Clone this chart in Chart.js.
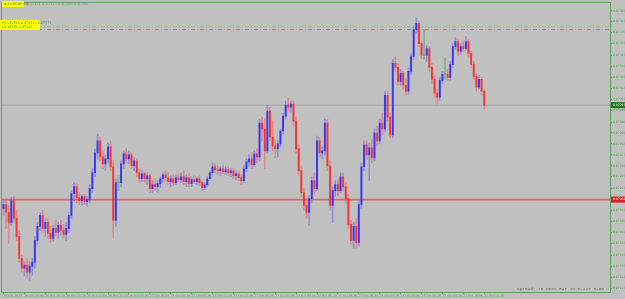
<!DOCTYPE html>
<html>
<head>
<meta charset="utf-8">
<title>EURGBP,M5</title>
<script src="https://cdn.jsdelivr.net/npm/chart.js@4.4.0/dist/chart.umd.min.js"></script>
<style>
  body { margin: 0; background: #c0c0c0; }
  #wrap { position: relative; width: 625px; height: 299px; overflow: hidden; background: #c0c0c0; }
  canvas { position: absolute; left: 0; top: 0; }
  .box { position: absolute; background: #ffff00; color: #5a8f5a; font-family: 'DejaVu Sans', sans-serif; white-space: nowrap; }
  .txt { position: absolute; color: #6f9a6f; font-family: 'DejaVu Sans', sans-serif; white-space: nowrap; }
</style>
</head>
<body>
<div id="wrap">
  <canvas id="chart" width="625" height="299"></canvas>
  <div class="box" style="left:2px;top:1px;width:22px;height:6px;font-size:3.6px;line-height:6px;padding-left:2px;box-sizing:border-box;">&#9642; EURGBP,M5</div>
  <div class="txt" id="ohlc" style="left:26px;top:1px;font-size:3.6px;line-height:6px;"></div>
  <div class="box" style="left:0;top:20px;width:40px;height:10px;font-size:3.3px;line-height:4px;padding:1px 0 0 2px;box-sizing:border-box;">
    <div>H1 LEVELS 0.87376 / 0.87373</div>
    <div>D1 LEVEL 0.87202</div>
  </div>
  <div class="txt" style="left:517px;top:286px;font-family:'Liberation Mono',monospace;font-size:4.4px;line-height:5px;color:#6a6a6a;">Spread: 16  Next Bar in 0-227 0-00</div>
</div>
<script>
// EURGBP M5 candles, 26 Oct 19:20 .. 27 Oct 10:40

const OPEN = [
  0.87193,0.87197,0.87189,0.87179,0.87201,0.87183,0.87165,0.87143,0.87133,0.87136,
  0.87129,0.87135,0.87139,0.87161,0.87175,0.87186,0.87173,0.87179,0.87168,0.87163,
  0.87173,0.87169,0.87176,0.87171,0.87167,0.87173,0.87186,0.87208,0.87215,0.87204,
  0.87201,0.87205,0.87200,0.87202,0.87213,0.87229,0.87249,0.87261,0.87245,0.87238,
  0.87243,0.87255,0.87235,0.87181,0.87219,0.87219,0.87238,0.87248,0.87243,0.87247,
  0.87236,0.87241,0.87229,0.87223,0.87228,0.87223,0.87226,0.87213,0.87217,0.87215,
  0.87218,0.87223,0.87227,0.87224,0.87220,0.87223,0.87219,0.87224,0.87222,0.87225,
  0.87220,0.87224,0.87218,0.87222,0.87220,0.87223,0.87219,0.87214,0.87217,0.87223,
  0.87229,0.87235,0.87232,0.87231,0.87233,0.87230,0.87232,0.87229,0.87231,0.87226,
  0.87228,0.87224,0.87221,0.87233,0.87240,0.87243,0.87237,0.87248,0.87245,0.87279,
  0.87273,0.87251,0.87291,0.87265,0.87256,0.87253,0.87258,0.87271,0.87286,0.87297,
  0.87295,0.87298,0.87281,0.87253,0.87231,0.87209,0.87196,0.87189,0.87203,0.87221,
  0.87213,0.87261,0.87249,0.87251,0.87279,0.87236,0.87196,0.87211,0.87217,0.87211,
  0.87225,0.87215,0.87203,0.87177,0.87161,0.87175,0.87159,0.87197,0.87235,0.87257,
  0.87247,0.87254,0.87244,0.87269,0.87261,0.87279,0.87273,0.87307,0.87285,0.87267,
  0.87339,0.87335,0.87321,0.87329,0.87317,0.87311,0.87331,0.87346,0.87373,0.87379,
  0.87359,0.87347,0.87347,0.87354,0.87335,0.87323,0.87309,0.87305,0.87322,0.87328,
  0.87328,0.87325,0.87338,0.87356,0.87361,0.87351,0.87356,0.87354,0.87361,0.87349,
  0.87338,0.87326,0.87315,0.87323,0.87311
];
const HIGH = [
  0.87201,0.87203,0.87196,0.87204,0.87205,0.87191,0.87171,0.87146,0.87139,0.87143,
  0.87139,0.87143,0.87165,0.87179,0.87189,0.87191,0.87183,0.87183,0.87175,0.87176,
  0.87181,0.87179,0.87181,0.87177,0.87179,0.87189,0.87211,0.87219,0.87218,0.87209,
  0.87207,0.87207,0.87205,0.87217,0.87233,0.87253,0.87268,0.87265,0.87251,0.87247,
  0.87259,0.87261,0.87241,0.87223,0.87226,0.87241,0.87251,0.87253,0.87251,0.87249,
  0.87244,0.87243,0.87233,0.87231,0.87230,0.87229,0.87228,0.87221,0.87223,0.87221,
  0.87225,0.87229,0.87231,0.87229,0.87226,0.87227,0.87227,0.87228,0.87229,0.87231,
  0.87227,0.87228,0.87225,0.87226,0.87225,0.87226,0.87221,0.87219,0.87225,0.87231,
  0.87239,0.87238,0.87236,0.87235,0.87236,0.87235,0.87235,0.87234,0.87233,0.87231,
  0.87231,0.87227,0.87236,0.87243,0.87247,0.87249,0.87251,0.87253,0.87283,0.87285,
  0.87283,0.87297,0.87295,0.87281,0.87263,0.87261,0.87273,0.87289,0.87301,0.87304,
  0.87301,0.87301,0.87285,0.87257,0.87236,0.87213,0.87203,0.87206,0.87225,0.87229,
  0.87266,0.87265,0.87255,0.87283,0.87283,0.87241,0.87215,0.87221,0.87223,0.87229,
  0.87229,0.87219,0.87207,0.87181,0.87179,0.87183,0.87201,0.87239,0.87261,0.87261,
  0.87259,0.87263,0.87273,0.87276,0.87283,0.87289,0.87311,0.87311,0.87289,0.87343,
  0.87346,0.87339,0.87333,0.87331,0.87323,0.87335,0.87349,0.87376,0.87385,0.87381,
  0.87361,0.87373,0.87357,0.87356,0.87339,0.87327,0.87313,0.87325,0.87331,0.87344,
  0.87333,0.87341,0.87359,0.87365,0.87363,0.87359,0.87361,0.87366,0.87363,0.87351,
  0.87341,0.87329,0.87327,0.87325,0.87313
];
const LOW = [
  0.87186,0.87173,0.87158,0.87176,0.87179,0.87161,0.87139,0.87129,0.87125,0.87123,
  0.87121,0.87126,0.87133,0.87157,0.87171,0.87169,0.87165,0.87163,0.87159,0.87160,
  0.87165,0.87163,0.87166,0.87163,0.87161,0.87169,0.87183,0.87201,0.87199,0.87197,
  0.87196,0.87197,0.87195,0.87199,0.87209,0.87225,0.87243,0.87241,0.87233,0.87231,
  0.87239,0.87231,0.87164,0.87175,0.87211,0.87215,0.87233,0.87239,0.87238,0.87233,
  0.87231,0.87225,0.87219,0.87220,0.87219,0.87217,0.87209,0.87209,0.87211,0.87209,
  0.87214,0.87219,0.87221,0.87217,0.87215,0.87216,0.87217,0.87220,0.87219,0.87217,
  0.87215,0.87215,0.87215,0.87218,0.87217,0.87216,0.87211,0.87212,0.87215,0.87221,
  0.87227,0.87229,0.87227,0.87226,0.87228,0.87227,0.87226,0.87225,0.87223,0.87222,
  0.87221,0.87217,0.87219,0.87230,0.87235,0.87233,0.87235,0.87239,0.87241,0.87261,
  0.87233,0.87249,0.87261,0.87251,0.87244,0.87245,0.87255,0.87268,0.87283,0.87291,
  0.87290,0.87276,0.87249,0.87226,0.87205,0.87191,0.87183,0.87176,0.87199,0.87208,
  0.87211,0.87245,0.87243,0.87247,0.87231,0.87191,0.87179,0.87205,0.87206,0.87209,
  0.87211,0.87198,0.87173,0.87157,0.87153,0.87153,0.87155,0.87193,0.87231,0.87243,
  0.87221,0.87239,0.87241,0.87256,0.87258,0.87267,0.87270,0.87281,0.87264,0.87264,
  0.87331,0.87317,0.87317,0.87313,0.87307,0.87308,0.87328,0.87343,0.87369,0.87356,
  0.87344,0.87343,0.87341,0.87331,0.87319,0.87305,0.87298,0.87302,0.87319,0.87323,
  0.87321,0.87322,0.87335,0.87353,0.87347,0.87348,0.87351,0.87352,0.87345,0.87335,
  0.87323,0.87311,0.87313,0.87307,0.87293
];
const CLOSE = [
  0.87197,0.87189,0.87179,0.87201,0.87183,0.87165,0.87143,0.87133,0.87136,0.87129,
  0.87135,0.87139,0.87161,0.87175,0.87186,0.87173,0.87179,0.87168,0.87163,0.87173,
  0.87169,0.87176,0.87171,0.87167,0.87173,0.87186,0.87208,0.87215,0.87204,0.87201,
  0.87205,0.87200,0.87202,0.87213,0.87229,0.87249,0.87261,0.87245,0.87238,0.87243,
  0.87255,0.87235,0.87181,0.87219,0.87219,0.87238,0.87248,0.87243,0.87247,0.87236,
  0.87241,0.87229,0.87223,0.87228,0.87223,0.87226,0.87213,0.87217,0.87215,0.87218,
  0.87223,0.87227,0.87224,0.87220,0.87223,0.87219,0.87224,0.87222,0.87225,0.87220,
  0.87224,0.87218,0.87222,0.87220,0.87223,0.87219,0.87214,0.87217,0.87223,0.87229,
  0.87235,0.87232,0.87231,0.87233,0.87230,0.87232,0.87229,0.87231,0.87226,0.87228,
  0.87224,0.87221,0.87233,0.87240,0.87243,0.87237,0.87248,0.87245,0.87279,0.87273,
  0.87251,0.87291,0.87265,0.87256,0.87253,0.87258,0.87271,0.87286,0.87297,0.87295,
  0.87298,0.87281,0.87253,0.87231,0.87209,0.87196,0.87189,0.87203,0.87221,0.87213,
  0.87261,0.87249,0.87251,0.87279,0.87236,0.87196,0.87211,0.87217,0.87211,0.87225,
  0.87215,0.87203,0.87177,0.87161,0.87175,0.87159,0.87197,0.87235,0.87257,0.87247,
  0.87254,0.87244,0.87269,0.87261,0.87279,0.87273,0.87307,0.87285,0.87267,0.87339,
  0.87335,0.87321,0.87329,0.87317,0.87311,0.87331,0.87346,0.87373,0.87379,0.87359,
  0.87347,0.87347,0.87354,0.87335,0.87323,0.87309,0.87305,0.87322,0.87328,0.87328,
  0.87325,0.87338,0.87356,0.87361,0.87351,0.87356,0.87354,0.87361,0.87349,0.87338,
  0.87326,0.87315,0.87323,0.87311,0.87297
];

// x-axis labels sit on every 8th bar
const TICK_INDEX = [0,8,16,24,32,40,48,56,64,72,80,88,96,104,112,120,128,136,144,152,160,168,176,184];
const TIME_LABELS = [
  '26 Oct 2023','26 Oct 20:00','26 Oct 20:40','26 Oct 21:20','26 Oct 22:00','26 Oct 22:40',
  '26 Oct 23:20','27 Oct 00:00','27 Oct 00:40','27 Oct 01:20','27 Oct 02:00','27 Oct 02:40',
  '27 Oct 03:20','27 Oct 04:00','27 Oct 04:40','27 Oct 05:20','27 Oct 06:00','27 Oct 06:40',
  '27 Oct 07:20','27 Oct 08:00','27 Oct 08:40','27 Oct 09:20','27 Oct 10:00','27 Oct 10:40'
];
const PRICE_TICKS = [
  0.87392,0.87381,0.87370,0.87359,0.87347,0.87336,0.87325,0.87314,0.87303,0.87292,
  0.87280,0.87269,0.87258,0.87247,0.87236,0.87225,0.87213,0.87202,0.87191,0.87180,
  0.87169,0.87158,0.87146,0.87135,0.87124,0.87113
];

const BID = 0.87297;          // current price line
const LEVEL = 0.87202;        // red horizontal line
const UPPER_GREEN = 0.87376;  // dash-dot lines near the top
const UPPER_RED = 0.87373;

const X_MIN = -0.574, X_MAX = 232.15;
const GREEN = '#5aa35a';
const n = CLOSE.length;

document.getElementById('ohlc').textContent =
  [OPEN[n-1], HIGH[n-1], LOW[n-1], CLOSE[n-1]].map(v => v.toFixed(5)).join(' ');

const dir = i => CLOSE[i] > OPEN[i] ? 1 : CLOSE[i] < OPEN[i] ? -1 : 0;
const bodyCol = i => dir(i) > 0 ? 'rgba(30,30,255,0.8)' : dir(i) < 0 ? 'rgba(255,25,25,0.78)' : 'rgba(110,170,110,0.9)';
const wickCol = i => dir(i) > 0 ? 'rgba(80,80,255,0.45)' : dir(i) < 0 ? 'rgba(255,60,60,0.42)' : 'rgba(110,170,110,0.8)';

const idx = CLOSE.map((_, i) => i);
const hline = v => [{ x: X_MIN, y: v }, { x: X_MAX, y: v }];

// frame + price boxes on the right axis
const priceTags = {
  id: 'priceTags',
  afterDraw(chart) {
    const { ctx, chartArea: a, scales: { y } } = chart;
    ctx.save();
    ctx.strokeStyle = GREEN;
    ctx.lineWidth = 1;
    ctx.strokeRect(a.left - 0.5, a.top - 0.5, a.right - a.left + 1, a.bottom - a.top + 1);
    const tags = [[BID, '#1f7a1f'], [LEVEL, '#e01e1e']];
    ctx.font = '3px "DejaVu Sans"';
    ctx.textBaseline = 'middle';
    for (const [v, c] of tags) {
      const py = y.getPixelForValue(v);
      ctx.fillStyle = c;
      ctx.fillRect(a.right + 1, py - 3, 14, 6);
      ctx.fillStyle = '#ffffff';
      ctx.fillText(v.toFixed(5), a.right + 3, py);
    }
    ctx.restore();
  }
};

new Chart(document.getElementById('chart'), {
  type: 'bar',
  data: {
    datasets: [
      {
        type: 'line', data: hline(BID), borderColor: '#a3a3ab', borderWidth: 1,
        pointRadius: 0, order: 3
      },
      {
        type: 'line', data: hline(LEVEL), borderColor: 'rgba(228,80,80,0.8)', borderWidth: 1.6,
        pointRadius: 0, order: 3
      },
      {
        type: 'line', data: hline(UPPER_GREEN), borderColor: '#8fbf8f', borderWidth: 1,
        borderDash: [4, 2, 1, 2], pointRadius: 0, order: 3
      },
      {
        type: 'line', data: hline(UPPER_RED), borderColor: '#e86a6a', borderWidth: 1,
        borderDash: [4, 2, 1, 2], pointRadius: 0, order: 3
      },
      {
        data: idx.map(i => ({ x: i, y: [LOW[i], HIGH[i]] })),
        backgroundColor: idx.map(wickCol),
        barThickness: 0.9, grouped: false, order: 2
      },
      {
        data: idx.map(i => ({ x: i, y: [OPEN[i], CLOSE[i]] })),
        backgroundColor: idx.map(bodyCol),
        barThickness: 1.25, minBarLength: 1, grouped: false, order: 1
      }
    ]
  },
  options: {
    responsive: false,
    animation: false,
    devicePixelRatio: 1,
    layout: { padding: { left: 2, top: 1, right: 0, bottom: 0 } },
    plugins: { legend: { display: false }, tooltip: { enabled: false } },
    scales: {
      x: {
        type: 'linear', min: X_MIN, max: X_MAX, offset: false,
        grid: { drawOnChartArea: false, tickLength: 2, color: GREEN, offset: false },
        border: { color: GREEN },
        afterBuildTicks: s => { s.ticks = TICK_INDEX.map(v => ({ value: v })); },
        afterFit: s => { s.height = 7; },
        ticks: {
          autoSkip: false, maxRotation: 0, minRotation: 0, align: 'start', padding: 0,
          color: '#4f9f4f', font: { family: "'DejaVu Sans', sans-serif", size: 3 },
          callback: (v, i) => TIME_LABELS[i]
        }
      },
      y: {
        position: 'right', min: 0.87109, max: 0.87400,
        grid: { drawOnChartArea: false, tickLength: 2, color: GREEN },
        border: { color: GREEN },
        afterBuildTicks: s => { s.ticks = PRICE_TICKS.map(v => ({ value: v })); },
        afterFit: s => { s.width = 15; },
        ticks: {
          padding: 1, color: '#4f9f4f',
          font: { family: "'DejaVu Sans', sans-serif", size: 3 },
          callback: v => v.toFixed(5)
        }
      }
    }
  },
  plugins: [priceTags]
});
</script>
</body>
</html>
